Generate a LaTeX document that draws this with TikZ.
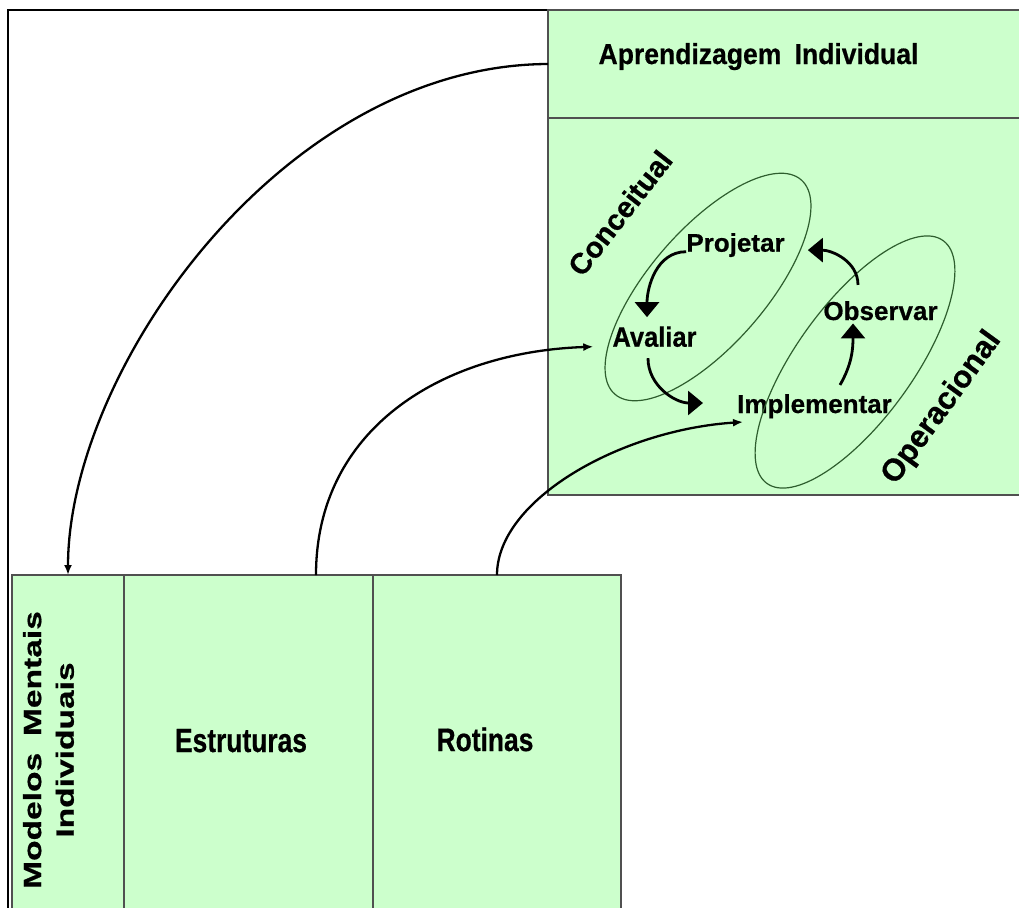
\documentclass[tikz,border=0pt]{standalone}
\usepackage{fontspec}
\setmainfont{Liberation Sans}[BoldFeatures={FakeBold=0.6}]
\usetikzlibrary{arrows.meta,calc}
\definecolor{boxgreen}{HTML}{CCFFCC}
\definecolor{boxline}{HTML}{505050}
\definecolor{ellgreen}{HTML}{2E5E2E}
\begin{document}
\begin{tikzpicture}[x=1pt,y=-1pt,
  box/.style={draw=boxline, line width=1.5pt, fill=boxgreen, inner sep=0pt, outer sep=0pt, anchor=north west},
  lbl/.style={font=\fontsize{26}{34}\selectfont\bfseries, inner sep=0pt, text=black},
  ell/.style={draw=ellgreen, line width=1.2pt},
  link/.style={draw=black, line width=2.3pt, -{Latex[length=10pt,width=8pt]}},
  cyc/.style={draw=black, line width=2.8pt, -{Triangle[length=15pt,width=24pt]}}]
\useasboundingbox (0,0) rectangle (1019,907);
\clip (0,0) rectangle (1019,907);
% outer frame
\draw[line width=1.3pt] (8,10) rectangle (1040,930);
% boxes
\node[box, minimum width=481pt, minimum height=108pt] (apr) at (548,10) {};
\node[box, minimum width=481pt, minimum height=377pt] (ciclo) at (548,118) {};
\node[box, minimum width=112pt, minimum height=345pt] (mmi) at (12,575) {};
\node[box, minimum width=249pt, minimum height=345pt] (est) at (124,575) {};
\node[box, minimum width=248pt, minimum height=345pt] (rot) at (373,575) {};
% box labels
\node[lbl, anchor=base, xscale=1.02, yscale=1.11] (tapr) at (758.5,64) {Aprendizagem\hspace{0.5em}Individual};
\node[lbl, anchor=base, xscale=1.015, yscale=1.29] (test) at (241,752) {Estruturas};
\node[lbl, anchor=base, xscale=1.015, yscale=1.25] (trot) at (485,751) {Rotinas};
\node[lbl, align=center, xscale=0.96, yscale=1.29, rotate=90] (tmmi) at (48.5,750) {Modelos\hspace{0.5em}Mentais\\Individuais};
% cycle labels
\node[lbl, anchor=base, yscale=0.98] (proj) at (735.5,251.7) {Projetar};
\node[lbl, anchor=base, xscale=0.98, yscale=1.08] (aval) at (654.5,346.7) {Avaliar};
\node[lbl, anchor=base] (obs) at (880.5,320) {Observar};
\node[lbl, anchor=base] (impl) at (814.5,413) {Implementar};
\node[lbl, rotate=52, scale=1.12] (conc) at (620,213) {Conceitual};
\node[lbl, rotate=54, scale=1.2] (oper) at (942,408) {Operacional};
% ellipses
\draw[ell, rotate around={49:(708,287)}] (708,287) ellipse [x radius=142, y radius=58];
\draw[ell, rotate around={54:(855,362)}] (855,362) ellipse [x radius=150, y radius=58];
% cycle arrows
\draw[cyc] (proj.base west) to[out=180,in=90] ($(aval.north)+(-7.5,-9)$);
\draw[cyc] ($(aval.south)+(-6.5,11)$) to[out=-90,in=180] ($(impl.base west)+(-34,-10)$);
\draw[cyc] ($(impl.north)+(25.5,-9)$) to[out=60,in=-90] ($(obs.south)+(-27.5,3)$);
\draw[cyc] ($(obs.north)+(-22.5,-16)$) to[out=90,in=0] ($(proj.east)+(23,5)$);
% long connectors
\draw[link] (apr.west) .. controls (283,65) and (68,370) .. (mmi.north);
\draw[link] ($(est.north)+(67.5,0)$) .. controls (316,430) and (440,352) .. ($(aval.base west)+(-19,0)$);
\draw[link] (rot.north) .. controls (497,500) and (620,430) .. ($(impl.base west)+(6,9)$);
\end{tikzpicture}
\end{document}
